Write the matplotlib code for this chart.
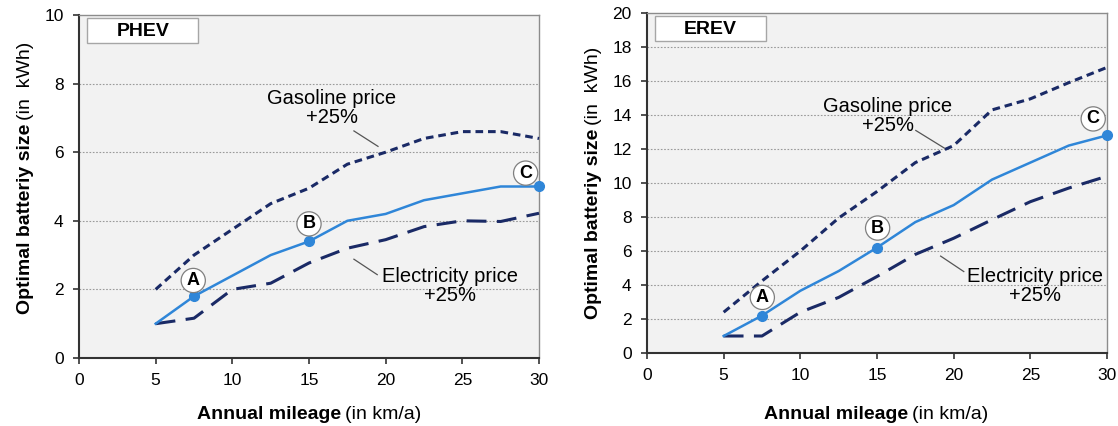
import matplotlib
matplotlib.use("Agg")
from matplotlib import pyplot as plt
from matplotlib.patches import Rectangle
import numpy as np

plt.rcParams['font.family'] = ['Liberation Sans', 'DejaVu Sans']

mileage = [5, 7.5, 10, 12.5, 15, 17.5, 20, 22.5, 25, 27.5, 30]

phev_base = [1.0, 1.8, 2.4, 3.0, 3.4, 4.0, 4.2, 4.6, 4.8, 5.0, 5.0]
phev_gas = [2.0, 3.0, 3.75, 4.5, 4.95, 5.65, 6.0, 6.4, 6.6, 6.6, 6.4]
phev_elec = [1.0, 1.16, 2.0, 2.18, 2.77, 3.2, 3.45, 3.83, 4.0, 3.98, 4.22]

erev_base = [1.0, 2.2, 3.66, 4.82, 6.2, 7.7, 8.7, 10.2, 11.2, 12.2, 12.8]
erev_gas = [2.4, 4.24, 6.0, 7.94, 9.5, 11.2, 12.2, 14.3, 14.95, 15.9, 16.8]
erev_elec = [1.0, 1.0, 2.4, 3.27, 4.5, 5.8, 6.75, 7.84, 8.9, 9.7, 10.4]

points_x = [7.5, 15, 30]
points_lbl = ['A', 'B', 'C']

BLUE = '#2f86d8'
NAVY = '#1a2a66'


def draw_panel(ax, base, gas, elec, ymax, title, gas_txt, gas_lead, el_txt, el_lead, circ):
    ax.set_facecolor('#f2f2f2')
    ax.set_xlim(0, 30)
    ax.set_ylim(0, ymax)
    ax.set_xticks(np.arange(0, 31, 5))
    ax.set_yticks(np.arange(0, ymax + 1, 2))
    for yv in np.arange(2, ymax, 2):
        ax.axhline(yv, color='#9a9a9a', lw=0.8, ls=(0, (1.5, 1.5)), zorder=1)
    ax.tick_params(direction='out', length=4, width=1.2, colors='#333333', labelsize=12.5,
                   labelcolor='black', pad=7)
    for s in ['top', 'right']:
        ax.spines[s].set_color('#8c8c8c')
        ax.spines[s].set_linewidth(1.0)
    for s in ['left', 'bottom']:
        ax.spines[s].set_color('#333333')
        ax.spines[s].set_linewidth(1.5)

    ax.plot(mileage, gas, color=NAVY, lw=2.2, ls=(0, (2.5, 1.6)), zorder=3, clip_on=False)
    ax.plot(mileage, elec, color=NAVY, lw=2.2, ls=(0, (6.5, 3.4)), zorder=3, clip_on=False)
    ax.plot(mileage, base, color=BLUE, lw=1.8, zorder=4, clip_on=False)

    for px, lbl, (cx, cy) in zip(points_x, points_lbl, circ):
        py = base[mileage.index(px)]
        ax.plot(px, py, 'o', color=BLUE, ms=7, zorder=5, clip_on=False)
        ax.text(cx, cy, lbl, ha='center', va='center', fontsize=13, weight='bold', zorder=6,
                bbox=dict(boxstyle='circle,pad=0.2', fc='white', ec='#7f7f7f', lw=0.9))

    ax.text(gas_txt[0], gas_txt[1], 'Gasoline price\n+25%', ha='center', va='center',
            fontsize=14.5, linespacing=1.0, zorder=6)
    ax.plot(gas_lead[0], gas_lead[1], color='#555555', lw=0.9, zorder=6)
    ax.text(el_txt[0], el_txt[1], 'Electricity price\n+25%', ha='center', va='center',
            fontsize=14.5, linespacing=1.0, zorder=6)
    ax.plot(el_lead[0], el_lead[1], color='#555555', lw=0.9, zorder=6)

    ax.add_patch(Rectangle((0.018, 0.917), 0.241, 0.074, transform=ax.transAxes,
                           fc='white', ec='#a6a6a6', lw=1.0, zorder=7))
    ax.text(0.1385, 0.952, title, transform=ax.transAxes, ha='center', va='center',
            fontsize=14, weight='bold', zorder=8)


def two_part_label(fig, cx, cy, bold, normal, rotation=0):
    r = fig.canvas.get_renderer()
    W, H = fig.get_size_inches() * fig.dpi
    t1 = fig.text(0, 0, bold, fontsize=14, weight='bold')
    t2 = fig.text(0, 0, normal, fontsize=14)
    w1 = t1.get_window_extent(r).width
    w2 = t2.get_window_extent(r).width
    gap = 4
    tot = w1 + gap + w2
    for t in (t1, t2):
        t.set_rotation(rotation)
        t.set_rotation_mode('anchor')
        t.set_ha('left')
        t.set_va('baseline')
    if rotation == 0:
        x0 = cx - tot / 2
        t1.set_position((x0 / W, cy / H))
        t2.set_position(((x0 + w1 + gap) / W, cy / H))
    else:
        y0 = cy - tot / 2
        t1.set_position((cx / W, y0 / H))
        t2.set_position((cx / W, (y0 + w1 + gap) / H))


fig = plt.figure(figsize=(11.18, 4.26), dpi=100)
W, H = 1118, 426
ax1 = fig.add_axes([79 / W, 1 - 358 / H, 460 / W, 343 / H])
ax2 = fig.add_axes([647 / W, 1 - 353 / H, 460 / W, 340 / H])

draw_panel(ax1, phev_base, phev_gas, phev_elec, 10, 'PHEV',
           (16.5, 7.28), ([17.93, 19.5], [6.62, 6.17]),
           (24.2, 2.1), ([17.93, 19.45], [2.88, 2.43]),
           [(7.45, 2.26), (15.0, 3.91), (29.13, 5.39)])
draw_panel(ax2, erev_base, erev_gas, erev_elec, 20, 'EREV',
           (15.7, 13.97), ([17.53, 19.38], [13.09, 12.06]),
           (25.3, 3.95), ([19.15, 20.66], [5.7, 4.79]),
           [(7.52, 3.27), (15.04, 7.35), (29.1, 13.77)])

two_part_label(fig, 309, H - 419, 'Annual mileage', '(in km/a)')
two_part_label(fig, 876, H - 419, 'Annual mileage', '(in km/a)')
two_part_label(fig, 30, H - 178, 'Optimal batteriy size', '(in  kWh)', rotation=90)
two_part_label(fig, 598, H - 183, 'Optimal batteriy size', '(in  kWh)', rotation=90)

fig.savefig('out.png', dpi=100)
